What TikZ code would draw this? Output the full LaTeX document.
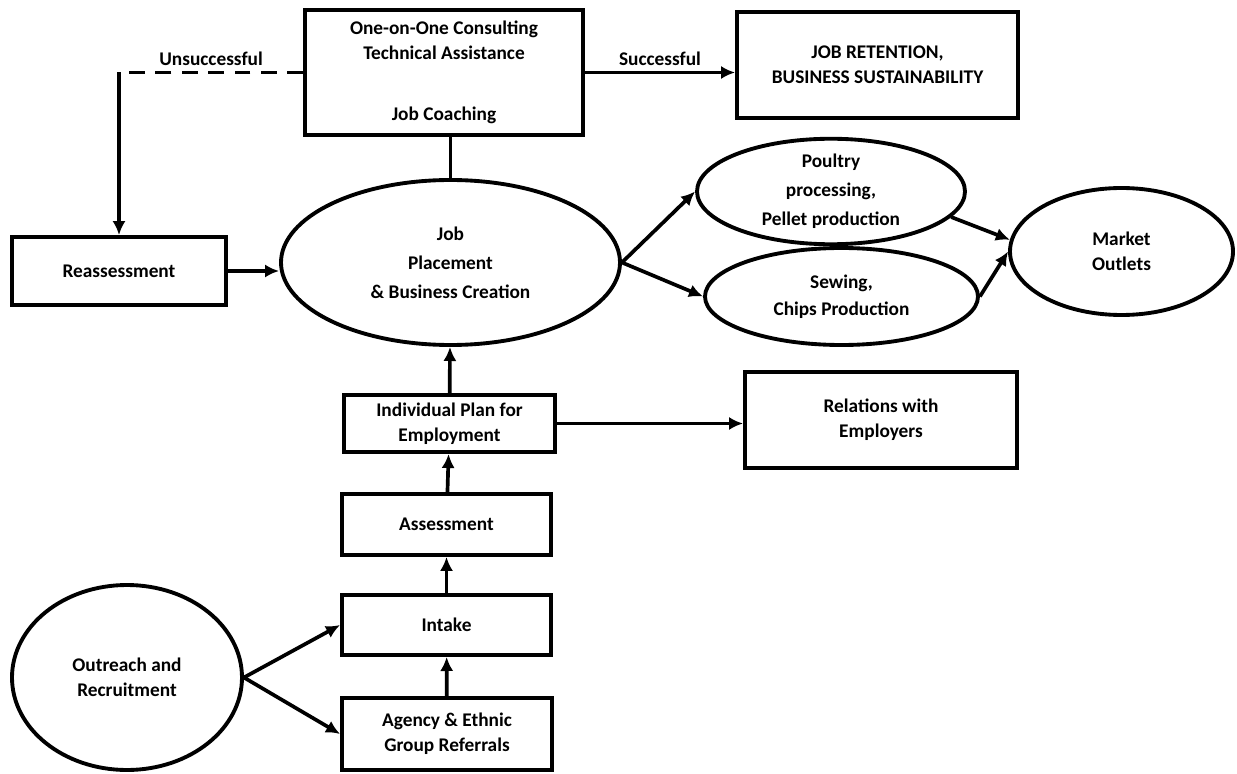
\documentclass[tikz,border=0pt]{standalone}
\usepackage{fontspec}
\setmainfont{Carlito}
\usetikzlibrary{arrows, arrows.meta}
\usetikzlibrary{calc}
\usetikzlibrary{shapes.geometric}

\begin{document}
\begin{tikzpicture}[
    box/.style={rectangle, draw, line width=2.2pt, inner sep=0pt, align=center,
      font=\bfseries\fontsize{11}{14}\selectfont},
    oval/.style={ellipse, draw, line width=2.2pt, inner sep=0pt, align=center,
      font=\bfseries\fontsize{11}{14}\selectfont},
    link/.style={line width=2.1pt},
    arr/.style={link, -{Latex[length=8pt, width=7.5pt]}},
    lbl/.style={font=\bfseries\fontsize{11}{14}\selectfont, inner sep=3pt}
  ]
    \useasboundingbox (0,0) rectangle (24.74,-15.48);

    \node[box, minimum width=5.56cm, minimum height=2.5cm] (consult) at (8.88,-1.45)
      {One-on-One Consulting\\Technical Assistance\\[21pt]Job Coaching};
    \node[box, minimum width=5.62cm, minimum height=2.12cm] (retain) at (17.55,-1.3)
      {JOB RETENTION,\\BUSINESS SUSTAINABILITY};
    \node[box, minimum width=4.28cm, minimum height=1.36cm] (reassess) at (2.38,-5.42) {Reassessment};
    \node[oval, minimum width=6.78cm, minimum height=3.3cm,
      font=\bfseries\fontsize{11}{16.5}\selectfont] (job) at (9.01,-5.25)
      {Job\\Placement\\\& Business Creation};
    \node[oval, minimum width=5.36cm, minimum height=1.86cm,
      font=\bfseries\fontsize{11}{16.5}\selectfont] (poultry) at (16.62,-3.83)
      {Poultry\\processing,\\Pellet production};
    \node[oval, minimum width=5.46cm, minimum height=1.94cm,
      font=\bfseries\fontsize{11}{15.5}\selectfont] (sewing) at (16.83,-5.93)
      {Sewing,\\Chips Production};
    \node[oval, minimum width=4.46cm, minimum height=2.54cm] (market) at (22.43,-5.03)
      {Market\\Outlets};
    \node[box, minimum width=4.22cm, minimum height=1.14cm] (plan) at (8.99,-8.47)
      {Individual Plan for\\Employment};
    \node[box, minimum width=5.44cm, minimum height=1.92cm] (relations) at (17.62,-8.4)
      {Relations with\\Employers};
    \node[box, minimum width=4.18cm, minimum height=1.22cm] (assess) at (8.93,-10.49) {Assessment};
    \node[box, minimum width=4.18cm, minimum height=1.2cm] (intake) at (8.93,-12.5) {Intake};
    \node[box, minimum width=4.2cm, minimum height=1.44cm] (agency) at (8.94,-14.68)
      {Agency \& Ethnic\\Group Referrals};
    \node[oval, minimum width=4.6cm, minimum height=3.7cm] (outreach) at (2.54,-13.55)
      {Outreach and\\Recruitment};

    \coordinate (corner) at (reassess.north |- consult.west);

    \draw[link] (job.north |- consult.south) -- (job.north);
    \draw[arr] (consult.east) -- (consult.east -| retain.west)
      node[lbl, midway, above] {Successful};
    \draw[link, dash pattern=on 9pt off 6pt] (consult.west) -- (corner)
      node[lbl, midway, above] {Unsuccessful};
    \draw[arr] (corner) -- (reassess.north);
    \draw[arr] (reassess.east) -- (reassess.east -| job.west);
    \draw[arr] (job.east) -- (poultry.west);
    \draw[arr] (job.east) -- (sewing.west);
    \draw[arr] (poultry.-12) -- (market.174);
    \draw[arr] (sewing.east) -- (market.180);
    \draw[arr] (plan) -- (job);
    \draw[arr] (plan.east) -- (plan.east -| relations.west);
    \draw[arr] (assess) -- (plan);
    \draw[arr] (intake) -- (assess);
    \draw[arr] (agency) -- (intake);
    \draw[arr] (outreach.east) -- (intake.west);
    \draw[arr] (outreach.east) -- (agency.west);
  \end{tikzpicture}
\end{document}
